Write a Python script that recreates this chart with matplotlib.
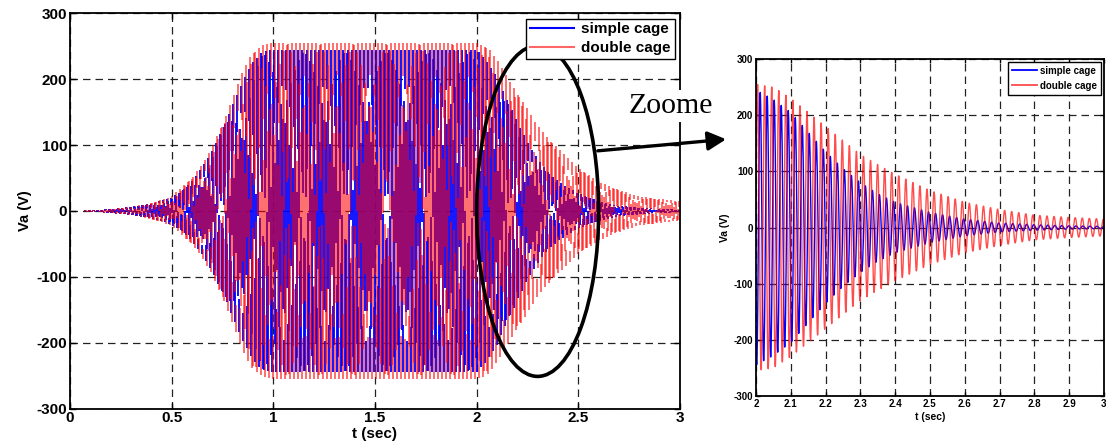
import numpy as np
import matplotlib
matplotlib.use("Agg")
import matplotlib.pyplot as plt
from matplotlib.patches import Ellipse, FancyArrowPatch

plt.rcParams["axes.unicode_minus"] = False

# ---------------- data ----------------
# envelope (peak amplitude, V) of the phase voltage Va
env_t = [0.0, 0.1, 0.2, 0.3, 0.4, 0.5, 0.55, 0.6, 0.65, 0.7, 0.75, 0.8, 0.85, 0.9,
         0.95, 1.0, 2.0, 2.05, 2.1, 2.15, 2.2, 2.25, 2.3, 2.35, 2.4, 2.5, 2.6, 2.7, 2.8, 2.9, 3.0]
env_simple = [0, 1, 3, 6, 11, 20, 30, 45, 65, 90, 122, 160, 195, 225,
              242, 245, 245, 228, 205, 170, 135, 105, 80, 60, 45, 27, 15, 8, 5, 3, 2]
env_double = [0, 1, 3, 6, 12, 22, 35, 50, 70, 95, 130, 170, 210, 240,
              252, 255, 255, 250, 230, 205, 180, 155, 130, 112, 95, 66, 45, 32, 22, 18, 15]
f_simple = 49.6         # Hz
f_double = 49.3         # Hz
phase_simple = 2.8      # rad
phase_double = 2.6      # rad
series_names = ["simple cage", "double cage"]

x_ticks_main = [0, 0.5, 1, 1.5, 2, 2.5, 3]
x_labels_main = ["0", "0.5", "1", "1.5", "2", "2.5", "3"]
x_ticks_zoom = [2, 2.1, 2.2, 2.3, 2.4, 2.5, 2.6, 2.7, 2.8, 2.9, 3]
x_labels_zoom = ["2", "2.1", "2.2", "2.3", "2.4", "2.5", "2.6", "2.7", "2.8", "2.9", "3"]
y_ticks = [-300, -200, -100, 0, 100, 200, 300]

BLUE = "#0000ff"
RED = "#ff0000"
FONT = "Liberation Sans"

def signal(t, env, f, ph):
    return np.interp(t, env_t, env) * np.sin(2 * np.pi * f * t + ph)

fig = plt.figure(figsize=(11.06, 4.47), dpi=100)
ax1 = fig.add_axes([0.0633, 0.0857, 0.5515, 0.8846])
ax2 = fig.add_axes([0.6835, 0.1141, 0.3146, 0.7539])

def style(ax, xt, xl, fs, ticklen):
    ax.set_ylim(-300, 300)
    ax.set_yticks(y_ticks)
    ax.set_xticks(xt)
    ax.set_xticklabels(xl)
    ax.grid(True, color="#222222", linestyle=(0, (6, 4)), linewidth=0.9)
    ax.tick_params(direction="in", top=True, right=True, length=ticklen, width=1,
                   labelsize=fs, pad=2)
    for lab in ax.get_xticklabels() + ax.get_yticklabels():
        lab.set_fontweight("bold")
        lab.set_family(FONT)
    for s in ax.spines.values():
        s.set_linewidth(1.3)

# ---------------- main panel (each screen column shows a short slice of the wave) ----
ax1.set_xlim(0, 3)
col_dt = 3.0 / 610.0
tc = np.arange(0, 3.0, col_dt)
sub = np.linspace(0, 0.82 * col_dt, 11)
Sb = signal(tc[:, None] + sub[None, :], env_simple, f_simple, phase_simple)
Sr = signal(tc[:, None] + sub[None, :], env_double, f_double, phase_double)
ax1.vlines(tc, Sb.min(1), Sb.max(1), color=BLUE, lw=1.3, label=series_names[0])
ax1.vlines(tc, Sr.min(1), Sr.max(1), color=RED, lw=1.3, alpha=0.62,
           label=series_names[1])
style(ax1, x_ticks_main, x_labels_main, 11, 4)
ax1.set_xlabel("t (sec)", fontsize=11, fontweight="bold", family=FONT, labelpad=1)
ax1.set_ylabel("Va (V)", fontsize=10.5, fontweight="bold", family=FONT, labelpad=3)
leg1 = ax1.legend(loc="upper right", prop={"weight": "bold", "size": 11, "family": FONT},
                  fancybox=False, framealpha=1, edgecolor="black",
                  borderaxespad=0.35, handlelength=3.0, borderpad=0.25,
                  labelspacing=0.3, handletextpad=0.4)
leg1.get_frame().set_linewidth(1.0)
for h in leg1.legend_handles:
    h.set_linewidth(1.5)
leg1.legend_handles[1].set_alpha(0.6)

ell = Ellipse((2.3, 0), width=0.6, height=502, fill=False, edgecolor="black",
              linewidth=2.6, zorder=5)
ax1.add_patch(ell)

# ---------------- zoom panel ----------------
t2 = np.arange(2.0, 3.0001, 0.0004)
ax2.plot(t2, signal(t2, env_simple, f_simple, phase_simple), color=BLUE, lw=1.0,
         label=series_names[0])
ax2.plot(t2, signal(t2, env_double, f_double, phase_double), color=RED, lw=1.0, alpha=0.7,
         label=series_names[1])
ax2.set_xlim(2, 3)
style(ax2, x_ticks_zoom, x_labels_zoom, 7, 3)
ax2.set_xlabel("t (sec)", fontsize=7.5, fontweight="bold", family=FONT, labelpad=2)
ax2.set_ylabel("Va (V)", fontsize=7.5, fontweight="bold", family=FONT, labelpad=3)
leg2 = ax2.legend(loc="upper right", prop={"weight": "bold", "size": 7, "family": FONT},
                  fancybox=False, framealpha=1, edgecolor="black",
                  borderaxespad=0.3, handlelength=2.6, borderpad=0.4,
                  labelspacing=0.5, handletextpad=0.3)
leg2.get_frame().set_linewidth(1.0)
for h in leg2.legend_handles:
    h.set_linewidth(1.3)

# ---------------- annotation ----------------
fig.text(0.568, 0.747, "Zoome", family="Liberation Serif", fontsize=21.5,
         ha="left", va="baseline",
         bbox=dict(facecolor="white", edgecolor="none", pad=2), zorder=10)
fig.patches.append(FancyArrowPatch(
    (0.538, 0.662), (0.659, 0.689), transform=fig.transFigure,
    arrowstyle="-|>,head_length=5,head_width=2.6", mutation_scale=2.2,
    color="black", linewidth=2.4, zorder=10))

fig.savefig("out.png", dpi=100)
